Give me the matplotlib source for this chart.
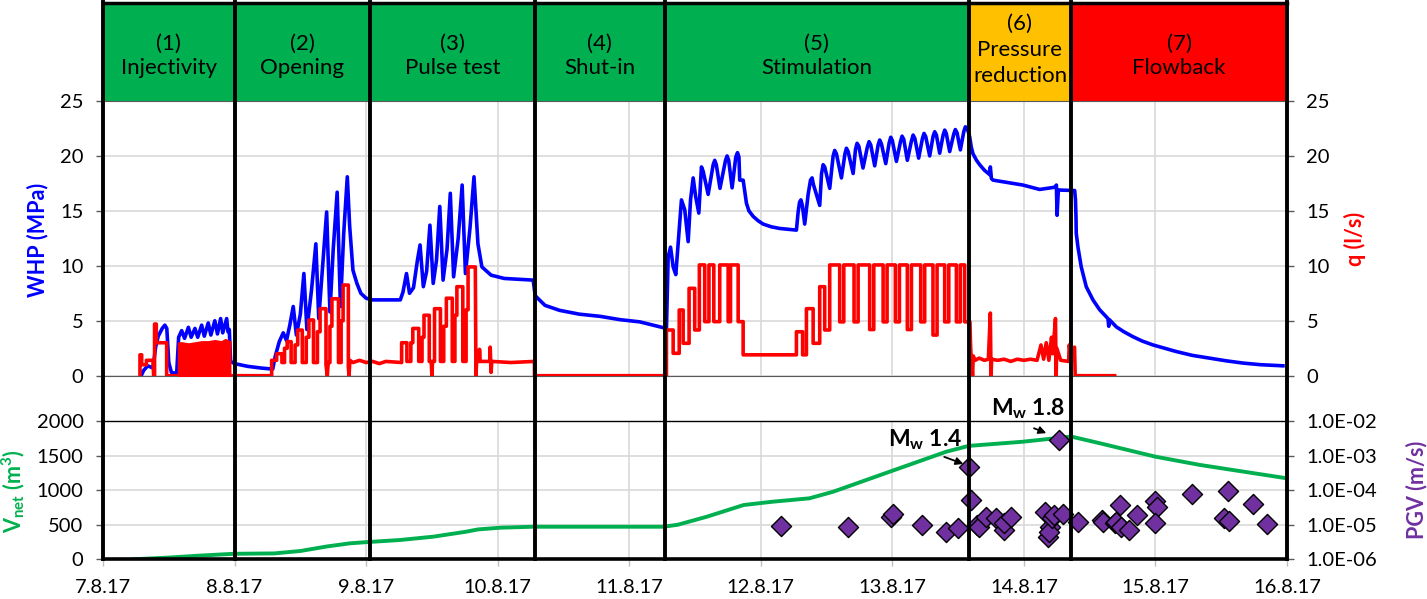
import numpy as np
import matplotlib
matplotlib.use("Agg")
import matplotlib.pyplot as plt
from matplotlib.ticker import NullLocator, FuncFormatter

plt.rcParams['font.family'] = ['Lato', 'DejaVu Sans']
plt.rcParams['mathtext.fontset'] = 'custom'
plt.rcParams['mathtext.rm'] = 'Lato'
plt.rcParams['mathtext.it'] = 'Lato:italic'
plt.rcParams['mathtext.bf'] = 'Lato:bold'

## time axis in days after 7.8.17 00:00
date_labels = ['7.8.17', '8.8.17', '9.8.17', '10.8.17', '11.8.17',
               '12.8.17', '13.8.17', '14.8.17', '15.8.17', '16.8.17']

phase_edges = [0.0, 1.0, 2.03, 3.28, 4.27, 6.58, 7.36, 9.0]
phase_labels = ['(1)\nInjectivity', '(2)\nOpening', '(3)\nPulse test', '(4)\nShut-in',
                '(5)\nStimulation', '(6)\nPressure\nreduction', '(7)\nFlowback']
phase_colors = ['#00B050', '#00B050', '#00B050', '#00B050', '#00B050', '#FFC000', '#FF0000']

## wellhead pressure (day, MPa)
whp_pts = [
    (0.29, 0.0), (0.31, 0.5), (0.34, 0.9), (0.38, 0.7), (0.40, 2.6), (0.42, 3.6), (0.45, 4.3),
    (0.47, 4.6), (0.485, 4.3), (0.50, 1.2), (0.52, 0.3), (0.56, 0.2),
    (0.575, 3.5), (0.598, 4.1), (0.62, 3.4), (0.649, 4.4), (0.67, 3.5), (0.699, 4.3), (0.72, 3.5),
    (0.75, 4.6), (0.77, 3.6), (0.80, 4.8), (0.82, 3.7), (0.85, 5.0), (0.87, 3.8), (0.894, 5.2),
    (0.91, 3.9), (0.94, 5.2), (0.95, 4.0), (0.96, 4.2), (0.97, 1.3),
    (1.00, 1.1), (1.10, 0.85), (1.20, 0.7), (1.29, 0.6),
    (1.31, 1.8), (1.34, 3.1), (1.37, 3.9), (1.395, 3.2), (1.42, 4.6), (1.446, 6.3), (1.47, 3.7),
    (1.50, 5.6), (1.527, 9.3), (1.55, 4.2), (1.585, 7.8), (1.618, 12.0), (1.64, 5.2), (1.67, 10.0),
    (1.70, 14.9), (1.725, 5.8), (1.75, 11.5), (1.78, 16.7), (1.805, 6.3), (1.83, 13.0),
    (1.857, 18.1), (1.875, 13.6), (1.90, 9.6), (1.93, 8.4), (1.96, 7.5), (2.00, 7.05),
    (2.05, 6.9), (2.26, 6.9),
    (2.28, 7.6), (2.307, 9.3), (2.33, 7.5), (2.36, 8.0), (2.39, 10.5), (2.41, 11.9), (2.435, 8.1),
    (2.46, 9.5), (2.485, 13.7), (2.51, 8.4), (2.535, 10.5), (2.56, 15.4), (2.585, 8.7),
    (2.615, 11.5), (2.64, 16.6), (2.665, 9.0), (2.70, 12.5), (2.73, 17.35), (2.755, 9.3),
    (2.79, 13.5), (2.82, 18.1), (2.85, 12.0), (2.88, 9.9), (2.95, 9.15), (3.05, 8.85), (3.27, 8.7),
    (3.285, 7.3), (3.30, 7.1), (3.36, 6.4), (3.47, 5.95), (3.62, 5.6), (3.78, 5.4), (3.93, 5.1),
    (4.08, 4.9), (4.20, 4.55), (4.283, 4.3),
    (4.296, 10.8), (4.314, 11.7), (4.334, 9.9), (4.354, 9.2), (4.372, 12.0), (4.397, 16.0),
    (4.422, 15.1), (4.448, 12.2), (4.466, 16.0), (4.486, 18.0), (4.505, 16.3), (4.529, 14.8),
    (4.549, 19.0), (4.562, 18.6), (4.60, 16.5), (4.638, 19.2), (4.65, 19.6), (4.662, 19.2),
    (4.69, 17.05), (4.732, 19.6), (4.744, 20.0), (4.756, 19.6), (4.782, 17.1), (4.81, 19.9),
    (4.823, 20.3), (4.834, 19.9), (4.84, 17.8), (4.866, 17.8), (4.891, 15.7), (4.91, 15.0),
    (4.942, 14.5), (4.98, 14.1), (5.018, 13.8), (5.08, 13.55), (5.144, 13.4), (5.271, 13.25),
    (5.284, 14.9), (5.295, 15.8), (5.305, 16.0), (5.316, 15.5), (5.334, 13.8), (5.36, 16.5),
    (5.378, 17.8), (5.39, 18.0), (5.40, 17.4), (5.42, 16.6), (5.448, 15.5), (5.462, 18.4),
    (5.474, 19.2), (5.486, 19.0), (5.524, 17.05), (5.55, 20.0), (5.562, 20.5), (5.575, 20.2),
    (5.613, 18.0), (5.64, 20.2), (5.651, 20.7), (5.664, 20.4), (5.702, 18.4), (5.72, 20.6),
    (5.732, 21.15), (5.745, 20.9), (5.777, 18.9), (5.81, 20.8), (5.823, 21.3), (5.836, 21.0),
    (5.866, 19.1), (5.892, 21.0), (5.904, 21.45), (5.917, 21.1), (5.95, 19.3), (5.976, 21.2),
    (5.988, 21.7), (6.00, 21.4), (6.031, 19.5), (6.062, 21.3), (6.074, 21.8), (6.087, 21.5),
    (6.114, 19.6), (6.146, 21.4), (6.158, 21.9), (6.171, 21.6), (6.20, 19.8), (6.229, 21.6),
    (6.241, 22.05), (6.254, 21.75), (6.284, 20.0), (6.31, 21.8), (6.322, 22.2), (6.335, 21.9),
    (6.36, 20.25), (6.386, 21.9), (6.398, 22.35), (6.41, 22.05), (6.436, 20.4), (6.467, 22.0),
    (6.479, 22.4), (6.492, 22.1), (6.517, 20.55), (6.543, 22.2), (6.555, 22.65), (6.57, 22.5),
    (6.588, 21.75), (6.60, 20.8), (6.613, 20.2), (6.64, 19.6), (6.664, 19.2), (6.70, 18.7),
    (6.74, 18.3), (6.745, 19.0), (6.753, 17.95), (6.765, 17.8), (6.841, 17.65), (6.993, 17.35),
    (7.12, 16.95), (7.234, 17.15), (7.247, 17.35), (7.252, 14.6), (7.262, 16.9), (7.386, 16.85),
    (7.392, 16.0), (7.396, 14.5), (7.398, 12.96), (7.411, 11.7), (7.436, 9.9), (7.474, 8.1),
    (7.525, 6.9), (7.576, 6.0), (7.639, 5.2), (7.645, 4.5), (7.65, 5.1), (7.702, 4.45),
    (7.76, 4.0), (7.829, 3.55), (7.90, 3.15), (7.981, 2.8), (8.07, 2.5), (8.158, 2.2),
    (8.28, 1.85), (8.412, 1.6), (8.54, 1.35), (8.665, 1.15), (8.80, 1.0), (8.969, 0.9),
]

## flow rate (day, l/s)
q_pts = [
    (0.281, 0.0), (0.281, 1.9), (0.294, 1.9), (0.294, 1.0), (0.33, 1.0), (0.33, 1.4), (0.38, 1.4),
    (0.385, 0.0), (0.392, 0.0), (0.392, 4.7), (0.405, 4.7), (0.405, 3.0), (0.484, 3.0),
    (0.484, 0.0), (0.572, 0.0), (0.965, 0.0),
    (1.282, 0.0), (1.282, 1.4), (1.32, 1.4), (1.32, 2.0), (1.36, 2.0), (1.36, 1.2), (1.38, 1.2),
    (1.38, 2.5), (1.40, 2.5), (1.40, 3.1), (1.43, 3.1), (1.43, 1.2), (1.46, 1.2), (1.46, 2.8),
    (1.48, 2.8), (1.48, 4.15), (1.515, 4.15), (1.515, 1.2), (1.545, 1.2), (1.545, 3.5),
    (1.565, 3.5), (1.565, 5.07), (1.60, 5.07), (1.60, 1.2), (1.63, 1.2), (1.63, 4.0), (1.65, 4.0),
    (1.65, 6.1), (1.695, 6.1), (1.695, 1.0), (1.705, 0.0), (1.712, 1.2), (1.725, 1.2),
    (1.725, 4.5), (1.74, 4.5), (1.74, 7.0), (1.79, 7.0), (1.79, 1.2), (1.81, 1.2), (1.81, 5.0),
    (1.825, 5.0), (1.825, 8.25), (1.865, 8.25), (1.865, 0.8), (1.87, 0.0), (1.877, 1.4),
    (1.90, 1.2), (1.95, 1.4), (2.00, 1.2),
    (2.05, 1.3), (2.10, 1.1), (2.15, 1.3), (2.27, 1.2), (2.27, 3.0), (2.31, 3.0), (2.31, 1.3),
    (2.34, 1.3), (2.34, 3.0), (2.355, 3.0), (2.355, 4.3), (2.40, 4.3), (2.40, 1.3), (2.425, 1.3),
    (2.425, 3.5), (2.44, 3.5), (2.44, 5.5), (2.48, 5.5), (2.48, 1.3), (2.495, 1.3), (2.50, 0.0),
    (2.505, 1.3), (2.52, 1.3), (2.52, 6.1), (2.565, 6.1), (2.565, 1.3), (2.59, 1.3), (2.59, 4.5),
    (2.61, 4.5), (2.61, 7.05), (2.655, 7.05), (2.655, 1.3), (2.675, 1.3), (2.675, 5.5),
    (2.69, 5.5), (2.69, 8.1), (2.735, 8.1), (2.735, 1.3), (2.76, 1.3), (2.76, 6.0), (2.775, 6.0),
    (2.775, 9.9), (2.83, 9.9), (2.835, 0.0), (2.84, 1.3), (2.86, 1.3), (2.862, 2.4),
    (2.866, 1.3), (2.94, 1.3), (2.943, 2.6), (2.947, 1.3), (2.95, 0.3), (2.955, 1.3),
    (3.10, 1.2), (3.28, 1.3), (3.28, 0.0), (4.283, 0.0),
    (4.283, 4.16), (4.334, 4.16), (4.334, 2.04), (4.38, 2.04), (4.38, 5.98), (4.41, 5.98),
    (4.41, 2.95), (4.455, 2.95), (4.455, 7.95), (4.498, 7.95), (4.498, 4.16), (4.533, 4.16),
    (4.533, 10.08), (4.574, 10.08), (4.574, 4.92), (4.606, 4.92), (4.606, 10.08), (4.643, 10.08),
    (4.643, 4.92), (4.688, 4.92), (4.688, 10.08), (4.752, 10.08), (4.752, 4.92), (4.77, 4.92),
    (4.77, 10.08), (4.828, 10.08), (4.828, 4.92), (4.866, 4.92), (4.866, 1.9), (5.271, 1.9),
    (5.271, 4.0), (5.318, 4.0), (5.318, 1.9), (5.347, 1.9), (5.347, 6.1), (5.398, 6.1),
    (5.398, 2.95), (5.448, 2.95), (5.448, 8.1), (5.486, 8.1), (5.486, 4.16), (5.524, 4.16),
    (5.524, 10.08), (5.60, 10.08), (5.60, 4.9), (5.631, 4.9), (5.631, 10.08), (5.709, 10.08),
    (5.709, 4.9), (5.74, 4.9), (5.74, 10.08), (5.828, 10.08), (5.828, 4.2), (5.859, 4.2),
    (5.859, 10.08), (5.93, 10.08), (5.93, 4.9), (5.96, 4.9), (5.96, 10.08), (6.023, 10.08),
    (6.023, 4.9), (6.054, 4.9), (6.054, 10.08), (6.114, 10.08), (6.114, 4.2), (6.145, 4.2),
    (6.145, 10.08), (6.216, 10.08), (6.216, 4.9), (6.246, 4.9), (6.246, 10.08), (6.309, 10.08),
    (6.309, 3.7), (6.34, 3.7), (6.34, 10.08), (6.398, 10.08), (6.398, 4.9), (6.429, 4.9),
    (6.429, 10.08), (6.487, 10.08), (6.487, 4.9), (6.517, 4.9), (6.517, 10.08), (6.55, 10.08),
    (6.55, 4.9), (6.59, 4.9), (6.595, 2.6), (6.60, 1.6), (6.61, 0.0), (6.615, 1.8), (6.63, 1.4),
    (6.66, 1.6), (6.70, 1.4), (6.73, 1.5), (6.745, 5.7), (6.75, 0.0), (6.755, 1.5), (6.80, 1.4),
    (6.85, 1.5), (6.90, 1.3), (6.95, 1.5), (7.00, 1.4), (7.05, 1.5), (7.10, 1.4), (7.13, 2.8),
    (7.15, 1.5), (7.17, 3.0), (7.19, 1.4), (7.21, 3.5), (7.22, 2.0), (7.24, 5.2), (7.245, 0.0),
    (7.25, 2.5), (7.28, 1.4), (7.34, 1.3), (7.345, 2.8), (7.36, 1.4), (7.385, 2.6), (7.39, 0.0),
    (7.69, 0.0),
]

## dense injection block of phase (1), drawn filled
q_block_day = [0.572, 0.60, 0.65, 0.70, 0.75, 0.80, 0.85, 0.90, 0.93, 0.965]
q_block_top = [3.0, 3.0, 2.9, 3.0, 3.1, 3.1, 3.2, 3.1, 3.3, 3.1]

## net injected volume (day, m3)
vnet_pts = [
    (0.23, 0), (0.50, 25), (0.75, 55), (1.00, 80), (1.30, 85), (1.50, 120), (1.70, 185),
    (1.877, 231), (2.00, 248), (2.257, 279), (2.51, 327), (2.76, 399), (2.85, 432), (3.02, 457),
    (3.27, 471), (4.26, 471), (4.37, 500), (4.59, 616), (4.87, 785), (5.09, 833), (5.37, 882),
    (5.55, 977), (5.98, 1267), (6.41, 1556), (6.58, 1640), (6.99, 1700), (7.36, 1775),
    (7.58, 1677), (8.00, 1484), (8.34, 1364), (9.00, 1171),
]

## peak ground velocity of events (day, m/s)
pgv_day = [5.152, 5.664, 5.99, 6.006, 6.226, 6.406, 6.50, 6.58, 6.60, 6.64, 6.66, 6.71, 6.79,
           6.85, 6.85, 6.905, 7.16, 7.18, 7.20, 7.19, 7.21, 7.23, 7.30, 7.27, 7.41, 7.59, 7.60,
           7.69, 7.70, 7.73, 7.74, 7.80, 7.86, 8.00, 8.01, 8.00, 8.28, 8.52, 8.55, 8.56, 8.74, 8.85]
pgv_val = [9.1e-6, 8.5e-6, 1.7e-5, 2.1e-5, 9.8e-6, 6.3e-6, 7.9e-6, 4.8e-4, 5.1e-5, 9.8e-6,
           8.7e-6, 1.7e-5, 1.55e-5, 7.1e-6, 1.1e-5, 1.7e-5, 2.4e-5, 4.5e-6, 8.7e-6, 6.3e-6,
           1.55e-5, 1.9e-5, 2.1e-5, 2.8e-3, 1.23e-5, 1.4e-5, 1.23e-5, 1.1e-5, 1.23e-5, 3.7e-5,
           8.7e-6, 7.1e-6, 1.9e-5, 4.7e-5, 3.3e-5, 1.1e-5, 7.6e-5, 1.6e-5, 9.5e-5, 1.3e-5,
           4.0e-5, 1.05e-5]

W, H = 1427, 599
def box(x0, y0, x1, y1):
    return [x0 / W, 1 - y1 / H, (x1 - x0) / W, (y1 - y0) / H]

fig = plt.figure(figsize=(W / 100, H / 100), dpi=100)
fs = 14.5
grid_c = '#D9D9D9'

## phase band
ax_band = fig.add_axes(box(103, 3, 1287, 101))
ax_band.set_xlim(0, 9)
ax_band.set_ylim(0, 1)
for a, b, c, lab in zip(phase_edges[:-1], phase_edges[1:], phase_colors, phase_labels):
    ax_band.axvspan(a, b, color=c, lw=0)
    three = lab.count('\n') == 2
    ax_band.text((a + b) / 2, 0.52 if three else 0.46, lab, ha='center', va='center',
                 fontsize=16, linespacing=1.38 if three else 1.3)
ax_band.set_xticks([])
ax_band.set_yticks([])
for s in ['left', 'right', 'bottom']:
    ax_band.spines[s].set_visible(False)
ax_band.spines['top'].set_linewidth(2.5)

## pressure / flow panel
ax_up = fig.add_axes(box(103, 101, 1287, 375.7))
whp = np.array(whp_pts).T
ax_up.plot(whp[0], whp[1], color='#0000FF', lw=2.6)
ax_up.set_xlim(0, 9)
ax_up.set_ylim(0, 25)
ax_up.set_yticks(range(0, 30, 5))
ax_up.set_xticks(range(10))
ax_up.set_axisbelow(True)
ax_up.grid(True, color=grid_c, lw=1.2)
ax_up.tick_params(axis='x', length=0, labelbottom=False)
ax_up.tick_params(axis='y', length=5, width=1, color='#595959', labelsize=fs, pad=9)
ax_up.spines['left'].set_visible(False)
ax_up.spines['right'].set_visible(False)
ax_up.spines['bottom'].set_color('#595959')
ax_up.spines['top'].set_color('#595959')

ax_q = ax_up.twinx()
q = np.array(q_pts).T
ax_q.fill_between(q_block_day, 0, q_block_top, color='#FF0000', lw=1.5)
ax_q.plot(q[0], q[1], color='#FF0000', lw=2.6)
ax_q.set_ylim(0, 25)
ax_q.set_yticks(range(0, 30, 5))
ax_q.tick_params(axis='y', length=5, width=1, color='#595959', labelsize=fs, pad=9)
for s in ax_q.spines.values():
    s.set_visible(False)

## volume / PGV panel
ax_lo = fig.add_axes(box(103, 421, 1287, 559.3))
v = np.array(vnet_pts).T
ax_lo.plot(v[0], v[1], color='#00B050', lw=2.8)
ax_lo.set_xlim(0, 9)
ax_lo.set_ylim(0, 2000)
ax_lo.set_yticks(range(0, 2001, 500))
ax_lo.set_xticks(range(10))
ax_lo.set_xticklabels(date_labels)
ax_lo.set_axisbelow(True)
ax_lo.grid(True, color=grid_c, lw=1.2)
ax_lo.tick_params(axis='x', length=5, width=1, color='#BFBFBF', labelsize=fs, pad=9)
ax_lo.tick_params(axis='y', length=5, width=1, color='#595959', labelsize=fs, pad=9)
ax_lo.spines['left'].set_visible(False)
ax_lo.spines['right'].set_visible(False)
ax_lo.spines['bottom'].set_linewidth(2.6)
ax_lo.spines['top'].set_linewidth(1.0)

ax_p = ax_lo.twinx()
ax_p.set_yscale('log')
ax_p.scatter(pgv_day, pgv_val, marker='D', s=105, color='#7030A0', edgecolor='black',
             linewidth=1.0, zorder=3)
ax_p.set_ylim(1e-6, 1e-2)
ax_p.set_yticks([1e-6, 1e-5, 1e-4, 1e-3, 1e-2])
ax_p.yaxis.set_minor_locator(NullLocator())
ax_p.yaxis.set_major_formatter(FuncFormatter(lambda y, pos: f'{y:.1E}'))
ax_p.tick_params(axis='y', length=5, width=1, color='#595959', labelsize=fs, pad=9)
for s in ax_p.spines.values():
    s.set_visible(False)

ax_p.annotate('', xy=(6.56, 10 ** -3.27), xytext=(6.375, 10 ** -3.01),
              arrowprops=dict(arrowstyle='-|>', color='black', lw=1.3, mutation_scale=11))
ax_p.text(6.25, 10 ** -2.55, r'$\mathbf{M_w}$ 1.4', ha='center', va='center',
          fontsize=16.5, fontweight='bold')
ax_p.annotate('', xy=(7.19, 10 ** -2.38), xytext=(7.057, 10 ** -2.18),
              arrowprops=dict(arrowstyle='-|>', color='black', lw=1.3, mutation_scale=11),
              annotation_clip=False)
ax_p.text(7.03, 10 ** -1.65, r'$\mathbf{M_w}$ 1.8', ha='center', va='center',
          fontsize=16.5, fontweight='bold', clip_on=False)

## phase boundaries through all panels
ax_ov = fig.add_axes(box(103, 2, 1287, 559.3))
ax_ov.set_xlim(0, 9)
ax_ov.set_ylim(0, 1)
ax_ov.axis('off')
for e in phase_edges:
    ax_ov.axvline(e, color='black', lw=2.8, clip_on=False)

## axis titles
fig.text(38 / W, 1 - 240 / H, 'WHP (MPa)', rotation=90, ha='center', va='center',
         color='#0000FF', fontweight='bold', fontsize=15.5)
fig.text(1355 / W, 1 - 239 / H, 'q (l/s)', rotation=90, ha='center', va='center',
         color='#FF0000', fontweight='bold', fontsize=15.5)
fig.text(13 / W, 1 - 491 / H, r'$\mathbf{V_{net}}$ $\mathbf{(m^3)}$', rotation=90,
         ha='center', va='center', color='#00B050', fontsize=15.5)
fig.text(1417 / W, 1 - 490 / H, 'PGV (m/s)', rotation=90, ha='center', va='center',
         color='#7030A0', fontweight='bold', fontsize=15.5)

fig.savefig('out.png', dpi=100)
